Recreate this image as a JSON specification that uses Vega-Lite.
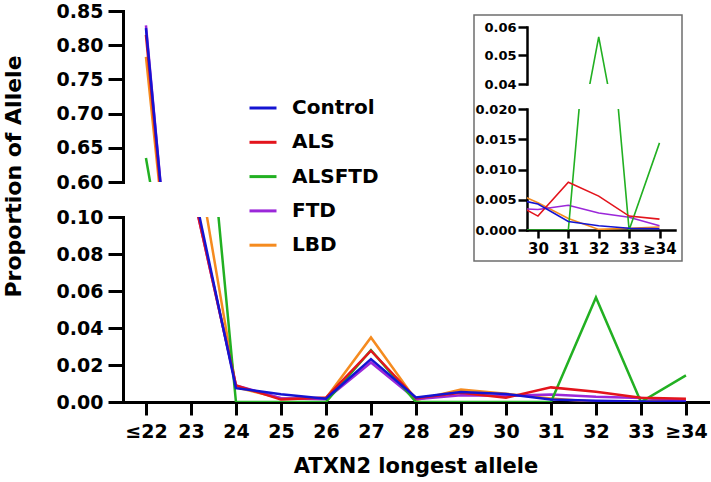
{
  "$schema": "https://vega.github.io/schema/vega-lite/v6.json",
  "autosize": {"type": "none"},
  "padding": {"left": 123, "top": 11, "right": 588, "bottom": 471},
  "background": "white",
  "datasets": {
    "d": [
      {"len": 22, "group": "LBD", "p": 0.783}, {"len": 23, "group": "LBD", "p": 0.151}, {"len": 24, "group": "LBD", "p": 0.008}, {"len": 25, "group": "LBD", "p": 0.002}, {"len": 26, "group": "LBD", "p": 0.002}, {"len": 27, "group": "LBD", "p": 0.0349}, {"len": 28, "group": "LBD", "p": 0.001}, {"len": 29, "group": "LBD", "p": 0.0067}, {"len": 30, "group": "LBD", "p": 0.0045}, {"len": 31, "group": "LBD", "p": 0.0019}, {"len": 32, "group": "LBD", "p": 0.0001}, {"len": 33, "group": "LBD", "p": 0.0003}, {"len": 34, "group": "LBD", "p": 0.0005},
      {"len": 22, "group": "FTD", "p": 0.829}, {"len": 23, "group": "FTD", "p": 0.118}, {"len": 24, "group": "FTD", "p": 0.009}, {"len": 25, "group": "FTD", "p": 0.002}, {"len": 26, "group": "FTD", "p": 0.0015}, {"len": 27, "group": "FTD", "p": 0.0214}, {"len": 28, "group": "FTD", "p": 0.0015}, {"len": 29, "group": "FTD", "p": 0.0036}, {"len": 30, "group": "FTD", "p": 0.0034}, {"len": 31, "group": "FTD", "p": 0.0041}, {"len": 32, "group": "FTD", "p": 0.0028}, {"len": 33, "group": "FTD", "p": 0.0021}, {"len": 34, "group": "FTD", "p": 0.0007},
      {"len": 22, "group": "ALSFTD", "p": 0.635}, {"len": 23, "group": "ALSFTD", "p": 0.258}, {"len": 24, "group": "ALSFTD", "p": 0}, {"len": 25, "group": "ALSFTD", "p": 0}, {"len": 26, "group": "ALSFTD", "p": 0}, {"len": 27, "group": "ALSFTD", "p": 0.028}, {"len": 28, "group": "ALSFTD", "p": 0}, {"len": 29, "group": "ALSFTD", "p": 0}, {"len": 30, "group": "ALSFTD", "p": 0}, {"len": 31, "group": "ALSFTD", "p": 0}, {"len": 32, "group": "ALSFTD", "p": 0.0565}, {"len": 33, "group": "ALSFTD", "p": 0}, {"len": 34, "group": "ALSFTD", "p": 0.0144},
      {"len": 22, "group": "ALS", "p": 0.815}, {"len": 23, "group": "ALS", "p": 0.118}, {"len": 24, "group": "ALS", "p": 0.009}, {"len": 25, "group": "ALS", "p": 0.0013}, {"len": 26, "group": "ALS", "p": 0.0024}, {"len": 27, "group": "ALS", "p": 0.0277}, {"len": 28, "group": "ALS", "p": 0.002}, {"len": 29, "group": "ALS", "p": 0.005}, {"len": 30, "group": "ALS", "p": 0.0023}, {"len": 31, "group": "ALS", "p": 0.0079}, {"len": 32, "group": "ALS", "p": 0.0056}, {"len": 33, "group": "ALS", "p": 0.0023}, {"len": 34, "group": "ALS", "p": 0.0018},
      {"len": 22, "group": "Control", "p": 0.825}, {"len": 23, "group": "Control", "p": 0.122}, {"len": 24, "group": "Control", "p": 0.0075}, {"len": 25, "group": "Control", "p": 0.0042}, {"len": 26, "group": "Control", "p": 0.0018}, {"len": 27, "group": "Control", "p": 0.0232}, {"len": 28, "group": "Control", "p": 0.0024}, {"len": 29, "group": "Control", "p": 0.0054}, {"len": 30, "group": "Control", "p": 0.0043}, {"len": 31, "group": "Control", "p": 0.0014}, {"len": 32, "group": "Control", "p": 0.0007}, {"len": 33, "group": "Control", "p": 0.0003}, {"len": 34, "group": "Control", "p": 0.0002}
    ]
  },
  "config": {
    "view": {"stroke": null},
    "axis": {
      "grid": false, "domainColor": "black", "domainWidth": 3, "tickColor": "black", "tickWidth": 3, "tickSize": 15,
      "labelFont": "DejaVu Sans", "labelFontWeight": "bold", "labelFontSize": 19, "labelColor": "black", "labelPadding": 5,
      "titleFont": "DejaVu Sans", "titleFontWeight": "bold", "titleFontSize": 20, "titleColor": "black",
      "labelFlush": false, "labelOverlap": false, "domainCap": "square"
    }
  },
  "columns": 3,
  "align": "none",
  "bounds": "flush",
  "spacing": {"row": -234, "column": -234},
  "concat": [
    {
      "width": 585, "height": 171,
      "data": {"name": "d"},
      "mark": {"type": "line", "clip": true, "strokeWidth": 2.5},
      "encoding": {
        "x": {"field": "len", "type": "quantitative", "scale": {"domain": [21.49, 34.49], "nice": false, "zero": false}, "axis": null},
        "y": {"field": "p", "type": "quantitative", "scale": {"domain": [0.6, 0.85], "nice": false, "zero": false}, "axis": {"values": [0.6, 0.65, 0.7, 0.75, 0.8, 0.85], "format": ".2f", "title": null}},
        "color": {"field": "group", "type": "nominal", "scale": {"domain": ["Control", "ALS", "ALSFTD", "FTD", "LBD"], "range": ["#1414d2", "#e3141c", "#22b022", "#9b27d9", "#f58b1f"]},
          "legend": {"orient": "none", "legendX": 125, "legendY": 82, "title": null, "symbolType": "stroke", "symbolSize": 729, "symbolStrokeWidth": 3, "labelFont": "DejaVu Sans", "labelFontWeight": "bold", "labelFontSize": 20, "labelColor": "black", "rowPadding": 9.3, "labelOffset": 14, "padding": 0}}
      }
    },
    {"width": 287, "height": 1, "data": {"values": []}, "mark": {"type": "point", "opacity": 0}},
    {"width": 1, "height": 238, "data": {"values": []}, "mark": {"type": "point", "opacity": 0}},
    {"width": 1, "height": 1, "data": {"values": []}, "mark": {"type": "point", "opacity": 0}},
    {"width": 208, "height": 246, "data": {"values": []}, "mark": {"type": "point", "opacity": 0}, "view": {"stroke": "#6e6e6e", "strokeWidth": 1.5, "fill": null}},
    {"width": 1, "height": 1, "data": {"values": []}, "mark": {"type": "point", "opacity": 0}},
    {"width": 1, "height": 1, "data": {"values": []}, "mark": {"type": "point", "opacity": 0}},
    {"width": 1, "height": 316, "data": {"values": []}, "mark": {"type": "point", "opacity": 0}},
    {
      "width": 148, "height": 57,
      "data": {"name": "d"},
      "transform": [{"filter": "datum.len >= 29"}],
      "mark": {"type": "line", "clip": true, "strokeWidth": 1.6},
      "encoding": {
        "x": {"field": "len", "type": "quantitative", "scale": {"domain": [29.64, 34.51], "nice": false, "zero": false}, "axis": null},
        "y": {"field": "p", "type": "quantitative", "scale": {"domain": [0.04, 0.06], "nice": false, "zero": false}, "axis": {"values": [0.04, 0.05, 0.06], "format": ".2f", "title": null, "labelFontSize": 13, "tickSize": 9, "tickWidth": 2.5, "domainWidth": 2.5, "labelPadding": 2}},
        "color": {"field": "group", "type": "nominal", "scale": {"domain": ["Control", "ALS", "ALSFTD", "FTD", "LBD"], "range": ["#1414d2", "#e3141c", "#22b022", "#9b27d9", "#f58b1f"]},
          "legend": {"orient": "none", "legendX": 125, "legendY": 82, "title": null, "symbolType": "stroke", "symbolSize": 729, "symbolStrokeWidth": 3, "labelFont": "DejaVu Sans", "labelFontWeight": "bold", "labelFontSize": 20, "labelColor": "black", "rowPadding": 9.3, "labelOffset": 14, "padding": 0}}
      }
    },
    {"width": 1, "height": 1, "data": {"values": []}, "mark": {"type": "point", "opacity": 0}},
    {"width": 1, "height": 342, "data": {"values": []}, "mark": {"type": "point", "opacity": 0}},
    {
      "width": 148, "height": 121,
      "data": {"name": "d"},
      "transform": [{"filter": "datum.len >= 29"}],
      "mark": {"type": "line", "clip": true, "strokeWidth": 1.6},
      "encoding": {
        "x": {"field": "len", "type": "quantitative", "scale": {"domain": [29.64, 34.51], "nice": false, "zero": false},
          "axis": {"values": [30, 31, 32, 33, 34], "format": "d", "labelExpr": "datum.value == 34 ? '≥34' : datum.label", "title": null, "labelFontSize": 15, "tickSize": 8, "tickWidth": 2.5, "domainWidth": 2.5, "labelPadding": 3}},
        "y": {"field": "p", "type": "quantitative", "scale": {"domain": [0, 0.02], "nice": false, "zero": false},
          "axis": {"values": [0, 0.005, 0.01, 0.015, 0.02], "format": ".3f", "title": null, "labelFontSize": 13, "tickSize": 9, "tickWidth": 2.5, "domainWidth": 2.5, "labelPadding": 2}},
        "color": {"field": "group", "type": "nominal", "scale": {"domain": ["Control", "ALS", "ALSFTD", "FTD", "LBD"], "range": ["#1414d2", "#e3141c", "#22b022", "#9b27d9", "#f58b1f"]},
          "legend": {"orient": "none", "legendX": 125, "legendY": 82, "title": null, "symbolType": "stroke", "symbolSize": 729, "symbolStrokeWidth": 3, "labelFont": "DejaVu Sans", "labelFontWeight": "bold", "labelFontSize": 20, "labelColor": "black", "rowPadding": 9.3, "labelOffset": 14, "padding": 0}}
      }
    },
    {
      "width": 585, "height": 185,
      "data": {"name": "d"},
      "mark": {"type": "line", "clip": true, "strokeWidth": 2.5},
      "encoding": {
        "x": {"field": "len", "type": "quantitative", "scale": {"domain": [21.49, 34.49], "nice": false, "zero": false},
          "axis": {"values": [22, 23, 24, 25, 26, 27, 28, 29, 30, 31, 32, 33, 34], "format": "d", "labelExpr": "datum.value == 22 ? '≤22' : datum.value == 34 ? '≥34' : datum.label", "title": "ATXN2 longest allele", "titleFontSize": 21, "tickSize": 13, "labelPadding": 7, "titlePadding": 14}},
        "y": {"field": "p", "type": "quantitative", "scale": {"domain": [0, 0.1], "nice": false, "zero": false},
          "axis": {"values": [0, 0.02, 0.04, 0.06, 0.08, 0.1], "format": ".2f", "title": "Proportion of Allele", "titleFontSize": 22, "titleY": -41, "titlePadding": 31}},
        "color": {"field": "group", "type": "nominal", "scale": {"domain": ["Control", "ALS", "ALSFTD", "FTD", "LBD"], "range": ["#1414d2", "#e3141c", "#22b022", "#9b27d9", "#f58b1f"]},
          "legend": {"orient": "none", "legendX": 125, "legendY": 82, "title": null, "symbolType": "stroke", "symbolSize": 729, "symbolStrokeWidth": 3, "labelFont": "DejaVu Sans", "labelFontWeight": "bold", "labelFontSize": 20, "labelColor": "black", "rowPadding": 9.3, "labelOffset": 14, "padding": 0}}
      }
    },
    {"width": 1, "height": 1, "data": {"values": []}, "mark": {"type": "point", "opacity": 0}},
    {"width": 1, "height": 1, "data": {"values": []}, "mark": {"type": "point", "opacity": 0}}
  ]
}
